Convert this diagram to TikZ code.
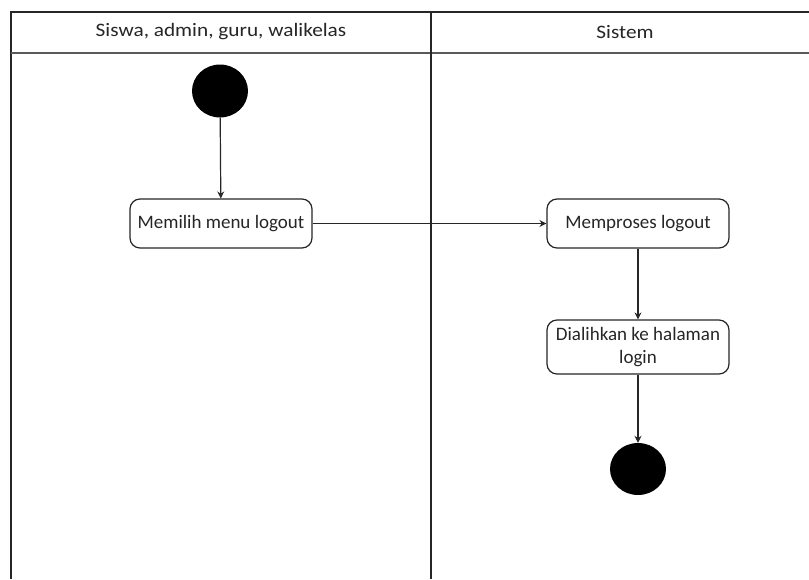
\documentclass[tikz,border=0pt]{standalone}
\usepackage{fontspec}
\setmainfont{Carlito}
\usetikzlibrary{arrows.meta,shapes.geometric}
\newcommand{\lanelabel}[1]{\scalebox{1.12}[1]{#1}}
\begin{document}
\begin{tikzpicture}[x=1pt,y=-1pt,
  lane/.style={line width=1.4pt,draw=black!85},
  act/.style={draw=black!85,line width=1.2pt,rounded corners=10pt,fill=white,
    minimum width=182pt,align=center,font=\fontsize{19}{22.5}\selectfont,text=black!85,inner sep=0pt},
  dot/.style={ellipse,fill=black,draw=none,minimum width=56pt,minimum height=53pt,inner sep=0pt},
  flow/.style={line width=1.2pt,draw=black!85,-{Stealth[length=7pt,width=7pt]}},
  lanetitle/.style={font=\fontsize{19}{22}\selectfont,text=black!85}]
  \useasboundingbox (0,0) rectangle (809,579);
  \fill[white] (0,0) rectangle (809,579);

  % swimlane frame
  \draw[lane] (11,579) -- (11,12) -- (809,12);
  \draw[lane,draw=black!65] (11,53) -- (809,53);
  \draw[lane] (431,12) -- (431,579);
  \node[lanetitle] (laneA) at (221,32) {\lanelabel{Siswa, admin, guru, walikelas}};
  \node[lanetitle] (laneB) at (625,32) {\lanelabel{Sistem}};

  % activities
  \node[dot] (start) at (220,91) {};
  \node[act,minimum height=49pt] (pilih) at (221,223.5) {Memilih menu logout};
  \node[act,minimum height=49pt] (proses) at (638,223.5) {Memproses logout};
  \node[act,minimum height=54pt] (alih) at (638,347) {Dialihkan ke halaman\\login};
  \node[dot,minimum height=52pt] (end) at (638,469) {};

  % transitions
  \draw[flow] (start) -- (pilih);
  \draw[flow] (pilih) -- (proses);
  \draw[flow] (proses) -- (alih);
  \draw[flow] (alih) -- (end);
\end{tikzpicture}
\end{document}
